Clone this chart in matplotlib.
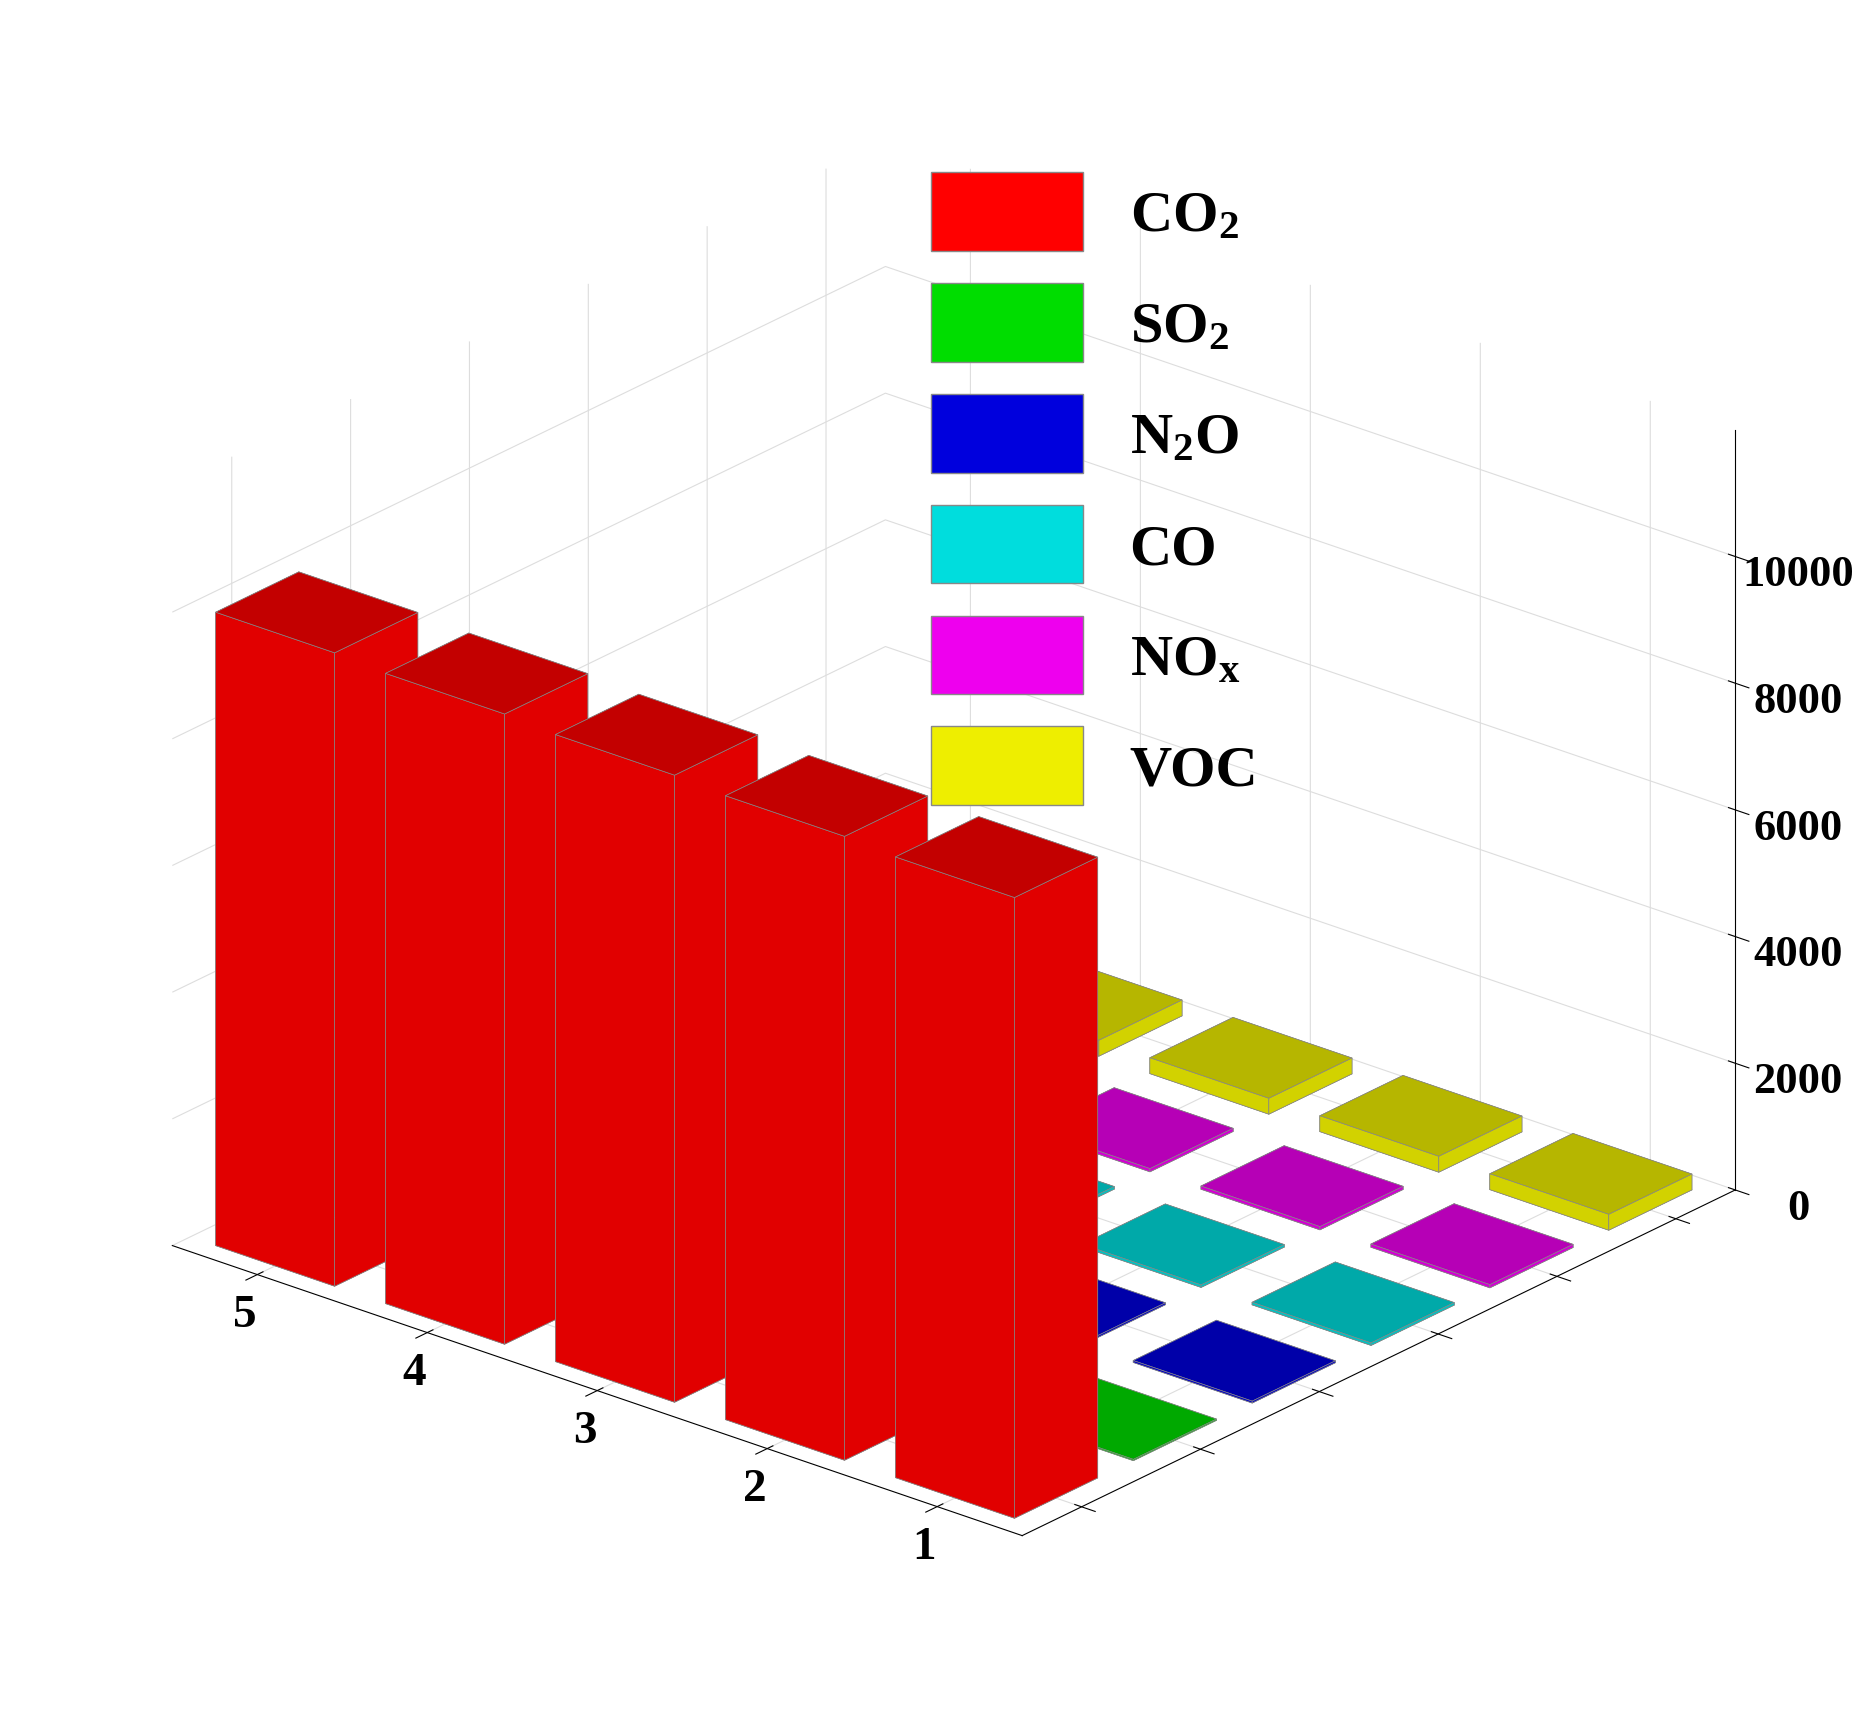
import numpy as np
import matplotlib
matplotlib.use("Agg")
import matplotlib.pyplot as plt
from matplotlib.patches import Patch

plt.rcParams['font.family'] = ['Liberation Serif', 'DejaVu Serif']
plt.rcParams['font.weight'] = 'bold'
plt.rcParams['mathtext.default'] = 'regular'

scenarios = ['1', '2', '3', '4', '5']
gases = ['CO$_2$', 'SO$_2$', 'N$_2$O', 'CO', 'NO$_x$', 'VOC']
colors = ['#ff0000', '#00dd00', '#0000dd', '#00dddd', '#ee00ee', '#eeee00']
co2 = [9800, 9850, 9900, 9950, 10000]
so2 = [20, 20, 20, 20, 20]
n2o = [30, 30, 30, 30, 30]
co = [40, 40, 40, 40, 40]
nox = [50, 50, 50, 50, 50]
voc = [250, 250, 250, 250, 250]
values = [co2, so2, n2o, co, nox, voc]

fig = plt.figure(figsize=(18.61, 17.24), dpi=100)
ax = fig.add_subplot(111, projection='3d')
ax.set_proj_type('ortho')
ax.view_init(elev=24, azim=-140)

w = 0.7
order = []
for gi in range(len(gases)):
    for si in range(len(scenarios)):
        order.append((gi, si))
# draw far ones first
order.sort(key=lambda t: -(t[0] + t[1]))
for gi, si in order:
    ax.bar3d(gi + 1 - w / 2, si + 1 - w / 2, 0, w, w, values[gi][si],
             color=colors[gi], shade=True, edgecolor='#888888', linewidth=0.5)

ax.set_xlim(0.5, 6.5)
ax.set_ylim(0.5, 5.5)
ax.set_zlim(0, 12000)
ax.set_yticks(range(1, 6))
ax.set_yticklabels(scenarios, fontsize=34)
ax.set_xticks(range(1, 7))
ax.set_xticklabels([''] * 6)
ax.set_zticks([0, 2000, 4000, 6000, 8000, 10000])
ax.tick_params(axis='z', labelsize=32, pad=18)
ax.set_zlabel('g/cm$^3$', fontsize=36, labelpad=45)
try:
    ax.zaxis.set_ticks_position('lower')
    ax.zaxis.set_label_position('lower')
except Exception:
    pass
for a in (ax.xaxis, ax.yaxis, ax.zaxis):
    a.set_pane_color((1, 1, 1, 0))
    a._axinfo['grid']['color'] = '#dddddd'

handles = [Patch(facecolor=c, edgecolor='#888888') for c in colors]
ax.legend(handles, gases, loc='upper left', bbox_to_anchor=(0.47, 0.93),
          fontsize=42, frameon=False, handlelength=2.6, handleheight=1.7,
          labelspacing=0.55)
plt.subplots_adjust(left=0, right=1, bottom=0, top=1)
fig.savefig('out.png', dpi=100)
